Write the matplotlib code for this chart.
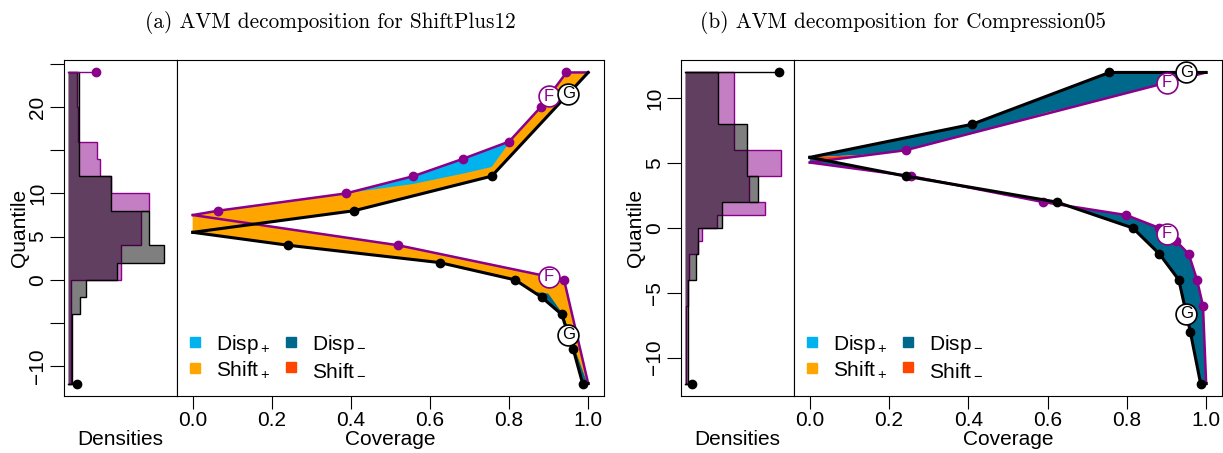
import numpy as np
import matplotlib.pyplot as plt
from matplotlib.lines import Line2D

plt.rcParams['font.family'] = 'Liberation Sans'
plt.rcParams['font.size'] = 15
plt.rcParams['mathtext.fontset'] = 'custom'
plt.rcParams['mathtext.rm'] = 'Liberation Sans'
plt.rcParams['mathtext.it'] = 'Liberation Sans:italic'

# colours of the decomposition
c_disp_plus = '#00B2EE'
c_disp_minus = '#00688B'
c_shift_plus = '#FFA500'
c_shift_minus = '#FF4500'
c_f = '#8B008B'
c_g = 'black'

# ---- panel (a): ShiftPlus12 ----
ga_edges = [-12, -4, -2, 0, 2, 4, 8, 12, 24]
ga_dens = [4.0, 12.3, 18.0, 49.0, 95.7, 81.3, 43.3, 11.3]
fa_edges = [-12, 0, 4, 8, 10, 12, 14, 16, 20, 24]
fa_dens = [2.8, 53.0, 73.3, 81.3, 43.3, 31.6, 29.0, 10.0, 8.5]
ga_atoms = [(-12, 8.7)]
fa_atoms = [(24, 28.0)]

ga_up_cov = [0, 0.408, 0.756, 1.0]
ga_up_q = [5.5, 8, 12, 24]
ga_lo_cov = [0, 0.242, 0.624, 0.815, 0.882, 0.933, 0.962, 0.986, 1.0]
ga_lo_q = [5.5, 4, 2, 0, -2, -4, -8, -12, -12]
fa_up_cov = [0, 0.064, 0.387, 0.558, 0.683, 0.800, 0.880, 0.945, 1.0]
fa_up_q = [7.5, 8, 10, 12, 14, 16, 20, 24, 24]
fa_lo_cov = [0, 0.520, 0.939, 1.0]
fa_lo_q = [7.5, 4, 0, -12]
# boundary between shift and dispersion parts
sa_up_cov = [0, 0.064, 0.27, 0.558, 0.684, 0.756, 0.802, 0.880, 0.945, 1.0]
sa_up_q = [7.5, 8, 9.28, 11.1, 12.3, 13.06, 15.97, 20, 24, 24]
sa_lo_cov = [0, 0.242, 0.624, 0.815, 0.861, 0.899, 0.937, 0.971, 0.994, 1.0]
sa_lo_q = [5.5, 4, 2, 0, -1.37, -1.59, -4.0, -8.6, -11.5, -12]

# ---- panel (b): Compression05 ----
gb_edges = [-12, -4, -2, 0, 2, 4, 8, 12]
gb_dens = [3.3, 10.7, 13.3, 37.3, 73.3, 62.3, 33.0]
fb_edges = [-12, -6, -4, -2, -1, 0, 1, 2, 4, 6, 12]
fb_dens = [1.0, 2.9, 4.0, 12.5, 16.7, 32.3, 80.0, 64.0, 95.7, 49.0]
gb_atoms = [(12, 94.0), (-12, 6.7)]
fb_atoms = []

gb_up_cov = [0, 0.409, 0.756, 1.0]
gb_up_q = [5.45, 8, 12, 12]
gb_lo_cov = [0, 0.242, 0.623, 0.815, 0.882, 0.931, 0.960, 0.986, 1.0]
gb_lo_q = [5.45, 4, 2, 0, -2, -4, -8, -12, -12]
fb_up_cov = [0, 0.242, 1.0]
fb_up_q = [5.05, 6, 12]
fb_lo_cov = [0, 0.255, 0.589, 0.798, 0.882, 0.924, 0.956, 0.977, 0.992, 1.0]
fb_lo_q = [5.05, 4, 2, 1, 0, -1, -2, -4, -6, -12]
sb_up_cov = [0, 0.16, 0.242, 0.5, 0.6, 0.68, 1.0]
sb_up_q = [5.45, 5.68, 6, 8.04, 8.93, 9.47, 12]

W, H = 1223, 453


def rect(x0, x1, y0=60, y1=396):
    return [x0 / W, (H - y1) / H, (x1 - x0) / W, (y1 - y0) / H]


def band(ax, x1, y1, x2, y2, color):
    xs = np.r_[x1, x2[::-1]]
    ys = np.r_[y1, y2[::-1]]
    ax.fill(xs, ys, color=color, lw=0)


def hist_panel(ax, f_edges, f_dens, g_edges, g_dens, f_atoms, g_atoms, ylim, ticks, labels):
    ax.stairs(f_dens, f_edges, orientation='horizontal', baseline=0, fill=True,
              facecolor=(0.545, 0, 0.545, 0.5), edgecolor=c_f, lw=1)
    ax.stairs(g_dens, g_edges, orientation='horizontal', baseline=0, fill=True,
              facecolor=(0, 0, 0, 0.5), edgecolor=c_g, lw=1)
    for q, d in f_atoms:
        ax.plot([0, d], [q, q], color=c_f, lw=1)
        ax.plot(d, q, 'o', color=c_f, ms=6)
    for q, d in g_atoms:
        ax.plot([0, d], [q, q], color=c_g, lw=1)
        ax.plot(d, q, 'o', color=c_g, ms=6)
    ax.set_xlim(-0.04 * 105, 1.04 * 105)
    ax.set_ylim(ylim)
    ax.set_xticks([])
    ax.set_yticks(ticks)
    ax.set_yticklabels(labels, rotation=90, va='center')
    ax.tick_params(axis='y', length=10, pad=2)
    ax.text(0.5, -0.13, 'Densities', transform=ax.transAxes, ha='center', va='center')


def curve(ax, cov, q, color, lw):
    ax.plot(cov, q, color=color, lw=lw, solid_joinstyle='round')
    ax.plot(cov[1:-1], q[1:-1], 'o', color=color, ms=6)


def label_mark(ax, cov, q, where, text, color):
    y = np.interp(where, cov, q)
    ax.plot(where, y, 'o', ms=15, mfc='white', mec=color, mew=1.2)
    ax.text(where, y, text, color=color, ha='center', va='center', fontsize=12)


def cov_panel(ax, ylim):
    ax.set_xlim(-0.04, 1.04)
    ax.set_ylim(ylim)
    ax.set_yticks([])
    ax.set_xticks([0, 0.2, 0.4, 0.6, 0.8, 1.0])
    ax.set_xticklabels(['0.0', '0.2', '0.4', '0.6', '0.8', '1.0'])
    ax.tick_params(axis='x', length=9, pad=2)
    ax.text(0.5, -0.13, 'Coverage', transform=ax.transAxes, ha='center', va='center')
    handles = [Line2D([], [], marker='s', ls='none', color=c_disp_plus, ms=7, label=r'Disp$_+$'),
               Line2D([], [], marker='s', ls='none', color=c_shift_plus, ms=7, label=r'Shift$_+$'),
               Line2D([], [], marker='s', ls='none', color=c_disp_minus, ms=7, label=r'Disp$_-$'),
               Line2D([], [], marker='s', ls='none', color=c_shift_minus, ms=7, label=r'Shift$_-$')]
    ax.legend(handles=handles, ncol=2, loc='lower left', bbox_to_anchor=(0.008, 0.035),
              frameon=False, handlelength=1.0, handletextpad=0.5, columnspacing=0.5,
              labelspacing=0.2, borderpad=0.2, borderaxespad=0)


def qlim(lo, hi):
    pad = 0.04 * (hi - lo)
    return (lo - pad, hi + pad)


fig = plt.figure(figsize=(12.23, 4.53), dpi=100)

# panel (a)
ax = fig.add_axes(rect(64, 177))
ylim_a = qlim(-12, 24)
hist_panel(ax, fa_edges, fa_dens, ga_edges, ga_dens, fa_atoms, ga_atoms, ylim_a,
           [-10, -5, 0, 5, 10, 15, 20, 25], ['\u221210', '', '0', '5', '10', '', '20', ''])
fig.text(19 / W, 0.5 * ((H - 396) + (H - 60)) / H, 'Quantile', rotation=90, ha='center', va='center')

ax = fig.add_axes(rect(177, 604))
band(ax, ga_up_cov, ga_up_q, fa_up_cov, fa_up_q, c_shift_plus)
band(ax, ga_lo_cov, ga_lo_q, fa_lo_cov, fa_lo_q, c_shift_plus)
band(ax, sa_up_cov, sa_up_q, fa_up_cov, fa_up_q, c_disp_plus)
band(ax, ga_lo_cov, ga_lo_q, sa_lo_cov, sa_lo_q, c_disp_minus)
curve(ax, fa_up_cov, fa_up_q, c_f, 1.8)
curve(ax, fa_lo_cov, fa_lo_q, c_f, 1.8)
curve(ax, ga_up_cov, ga_up_q, c_g, 2.2)
curve(ax, ga_lo_cov, ga_lo_q, c_g, 2.2)
label_mark(ax, fa_up_cov, fa_up_q, 0.9, 'F', c_f)
label_mark(ax, fa_lo_cov, fa_lo_q, 0.9, 'F', c_f)
label_mark(ax, ga_up_cov, ga_up_q, 0.95, 'G', c_g)
label_mark(ax, ga_lo_cov, ga_lo_q, 0.95, 'G', c_g)
cov_panel(ax, ylim_a)

# panel (b)
ax = fig.add_axes(rect(681, 794))
ylim_b = qlim(-12, 12)
hist_panel(ax, fb_edges, fb_dens, gb_edges, gb_dens, fb_atoms, gb_atoms, ylim_b,
           [-10, -5, 0, 5, 10], ['\u221210', '\u22125', '0', '5', '10'])
fig.text(636 / W, 0.5 * ((H - 396) + (H - 60)) / H, 'Quantile', rotation=90, ha='center', va='center')

ax = fig.add_axes(rect(794, 1222))
band(ax, gb_up_cov, gb_up_q, sb_up_cov, sb_up_q, c_disp_minus)
band(ax, sb_up_cov, sb_up_q, fb_up_cov, fb_up_q, c_shift_minus)
band(ax, gb_lo_cov, gb_lo_q, fb_lo_cov, fb_lo_q, c_disp_minus)
curve(ax, fb_up_cov, fb_up_q, c_f, 1.8)
curve(ax, fb_lo_cov, fb_lo_q, c_f, 1.8)
curve(ax, gb_up_cov, gb_up_q, c_g, 2.2)
curve(ax, gb_lo_cov, gb_lo_q, c_g, 2.2)
label_mark(ax, fb_up_cov, fb_up_q, 0.9, 'F', c_f)
label_mark(ax, fb_lo_cov, fb_lo_q, 0.9, 'F', c_f)
label_mark(ax, gb_up_cov, gb_up_q, 0.95, 'G', c_g)
label_mark(ax, gb_lo_cov, gb_lo_q, 0.95, 'G', c_g)
cov_panel(ax, ylim_b)

# titles
fig.text(330 / W, 1 - 22 / H, '(a) AVM decomposition for ShiftPlus12', ha='center', va='center',
         family='cmr10', fontsize=15.3)
fig.text(903 / W, 1 - 22 / H, '(b) AVM decomposition for Compression05', ha='center', va='center',
         family='cmr10', fontsize=15.3)

fig.savefig('out.png', dpi=100)
